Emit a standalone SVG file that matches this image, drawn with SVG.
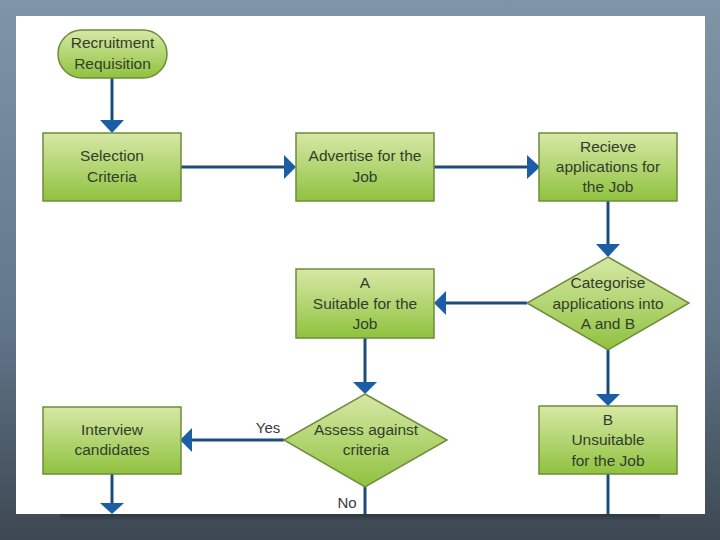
<svg xmlns="http://www.w3.org/2000/svg" width="720" height="540" viewBox="0 0 720 540">
<defs>
<linearGradient id="bg" x1="0" y1="0" x2="0" y2="1">
<stop offset="0" stop-color="#7f94a7"/>
<stop offset="0.6" stop-color="#62768a"/>
<stop offset="1" stop-color="#3d4752"/>
</linearGradient>
<linearGradient id="gr" x1="0" y1="0" x2="0" y2="1">
<stop offset="0" stop-color="#d7e8a6"/>
<stop offset="1" stop-color="#8fc23f"/>
</linearGradient>
<linearGradient id="sh" x1="0" y1="0" x2="0" y2="1">
<stop offset="0" stop-color="#2a3138" stop-opacity="0.8"/>
<stop offset="1" stop-color="#2a3138" stop-opacity="0"/>
</linearGradient>
<marker id="ah" viewBox="0 0 10 10" refX="10" refY="5" markerWidth="5" markerHeight="5" orient="auto" markerUnits="userSpaceOnUse">
<path d="M0,0 L10,5 L0,10 z" fill="#1c5ea6"/>
</marker>
</defs>
<style>
.box{fill:url(#gr);stroke:#6f8c3a;stroke-width:1.5}
.t{font-family:"Liberation Sans",Arial,sans-serif;font-size:15.5px;fill:#333d2c;text-anchor:middle}
.lbl{font-family:"Liberation Sans",Arial,sans-serif;font-size:15px;fill:#3a3a3a;text-anchor:middle}
.c{fill:none;stroke:#1d4c7c;stroke-width:3}
.head{fill:#1c5ea6}
</style>
<rect x="0" y="0" width="720" height="540" fill="url(#bg)"/>
<rect x="60" y="514" width="600" height="7" fill="url(#sh)"/>
<rect x="16" y="16" width="689" height="498" fill="#ffffff"/>

<g id="connectors">
<line class="c" x1="112" y1="78" x2="112" y2="122"/>
<path class="head" d="M100,120 L124,120 L112,133 z"/>
<line class="c" x1="181" y1="167" x2="286" y2="167"/>
<path class="head" d="M284,155 L284,179 L296,167 z"/>
<line class="c" x1="434" y1="167" x2="529" y2="167"/>
<path class="head" d="M527,155 L527,179 L540,167 z"/>
<line class="c" x1="608" y1="201" x2="608" y2="246"/>
<path class="head" d="M596,244 L620,244 L608,257 z"/>
<line class="c" x1="527" y1="303" x2="444" y2="303"/>
<path class="head" d="M446,291 L446,315 L434,303 z"/>
<line class="c" x1="608" y1="350" x2="608" y2="396"/>
<path class="head" d="M596,394 L620,394 L608,406 z"/>
<line class="c" x1="365" y1="338" x2="365" y2="384"/>
<path class="head" d="M353,382 L377,382 L365,394 z"/>
<line class="c" x1="284" y1="440" x2="190" y2="440"/>
<path class="head" d="M192,428 L192,452 L180,440 z"/>
<line class="c" x1="365" y1="486" x2="365" y2="514"/>
<line class="c" x1="112" y1="474" x2="112" y2="505"/>
<path class="head" d="M100,503 L124,503 L112,514 z"/>
<line class="c" x1="608" y1="474" x2="608" y2="514"/>
<text class="lbl" x="268" y="433">Yes</text>
<text class="lbl" x="347" y="508">No</text>
</g>

<g id="recruitment">
<rect class="box" x="58" y="30" width="109" height="48" rx="24" ry="24"/>
<text class="t" x="112.5" y="48">Recruitment</text>
<text class="t" x="112.5" y="69">Requisition</text>
</g>
<g id="selection">
<rect class="box" x="43" y="133" width="138" height="68"/>
<text class="t" x="112" y="161">Selection</text>
<text class="t" x="112" y="182">Criteria</text>
</g>
<g id="advertise">
<rect class="box" x="296" y="133" width="138" height="68"/>
<text class="t" x="365" y="161">Advertise for the</text>
<text class="t" x="365" y="182">Job</text>
</g>
<g id="receive">
<rect class="box" x="539" y="133" width="138" height="68"/>
<text class="t" x="608" y="152">Recieve</text>
<text class="t" x="608" y="172">applications for</text>
<text class="t" x="608" y="192">the Job</text>
</g>
<g id="categorise">
<polygon class="box" points="608,257 689,303 608,350 527,303"/>
<text class="t" x="608" y="288">Categorise</text>
<text class="t" x="608" y="309">applications into</text>
<text class="t" x="608" y="329">A and B</text>
</g>
<g id="suitable">
<rect class="box" x="296" y="269" width="138" height="69"/>
<text class="t" x="365" y="288">A</text>
<text class="t" x="365" y="309">Suitable for the</text>
<text class="t" x="365" y="329">Job</text>
</g>
<g id="assess">
<polygon class="box" points="365,394 447,440 365,487 284,440"/>
<text class="t" x="366" y="435">Assess against</text>
<text class="t" x="366" y="455">criteria</text>
</g>
<g id="interview">
<rect class="box" x="43" y="407" width="138" height="67"/>
<text class="t" x="112" y="435">Interview</text>
<text class="t" x="112" y="455">candidates</text>
</g>
<g id="unsuitable">
<rect class="box" x="539" y="406" width="138" height="68"/>
<text class="t" x="608" y="425">B</text>
<text class="t" x="608" y="445">Unsuitable</text>
<text class="t" x="608" y="466">for the Job</text>
</g>
</svg>
